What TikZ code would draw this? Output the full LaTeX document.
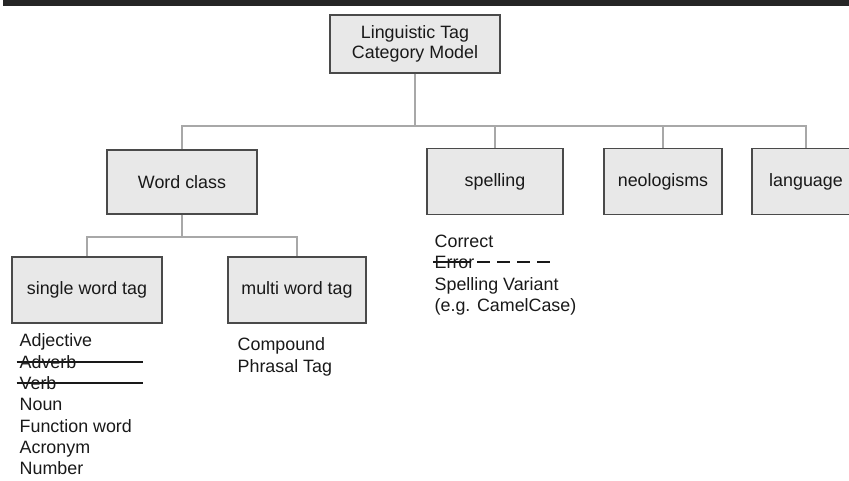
\documentclass[tikz,border=0pt]{standalone}
\usepackage{fontspec}
\setmainfont{Liberation Sans}
\usetikzlibrary{positioning, calc}
\definecolor{boxfill}{HTML}{E8E8E8}
\definecolor{boxline}{HTML}{4A4A4A}
\definecolor{linkgray}{HTML}{A8A8A8}
\newcommand{\struck}[2]{\makebox[0pt][l]{\hspace{-2.25pt}\rule[0.3em]{#2}{1.5pt}}#1}
\newcommand{\dashstruck}[1]{\makebox[0pt][l]{\hspace{-1pt}\rule[0.3em]{28pt}{1.5pt}\hbox to 60pt{\leaders\hbox to 15pt{\hspace{5pt}\rule[0.3em]{9.5pt}{1.5pt}\hfil}\hfill}}#1}

\begin{document}
\begin{tikzpicture}[
    x=0.75pt, y=-0.75pt,
    tagbox/.style={rectangle, draw=boxline, fill=boxfill, line width=0.9pt,
                   align=center, inner sep=0pt, text=black!90,
                   font=\fontsize{13.4}{15}\selectfont},
    taglist/.style={align=left, inner sep=0pt, text=black!90,
                    font=\fontsize{13.4}{16}\selectfont},
    link/.style={draw=linkgray, line width=1pt}
]
    \useasboundingbox (0,0) rectangle (849,481);
    \fill[black!85] (3,0.5) rectangle (849,6);

    % boxes
    \node[tagbox, minimum width=127.5pt, minimum height=43.5pt] (root) at (415,44) {Linguistic Tag\\Category Model};
    \node[tagbox, minimum width=112.5pt, minimum height=48pt] (wordclass) at (182,182) {Word class};
    \node[tagbox, minimum width=102pt, minimum height=49pt] (spelling) at (495,181.5) {spelling};
    \node[tagbox, minimum width=88.5pt, minimum height=49pt] (neolog) at (663,181.5) {neologisms};
    \node[tagbox, minimum width=81pt, minimum height=49pt] (language) at (806,181.5) {language};
    \node[tagbox, minimum width=112.5pt, minimum height=49.5pt] (single) at (87,290) {single word tag};
    \node[tagbox, minimum width=103.5pt, minimum height=49.5pt] (multi) at (297,290) {multi word tag};

    % lists
    \node[taglist, below right=7.5pt and 6pt of single.south west] (singlelist)
        {Adjective\\\struck{Adverb}{95pt}\\\struck{Verb}{95pt}\\Noun\\Function word\\Acronym\\Number};
    \node[taglist, below right=10.5pt and 7.5pt of multi.south west] (multilist)
        {Compound\\Phrasal Tag};
    \node[taglist, below right=15pt and 6pt of spelling.south west] (spellinglist)
        {Correct\\\dashstruck{Error}\\Spelling Variant\\(e.g. CamelCase)};

    % connectors
    \coordinate (bus) at (415,126);
    \draw[link] (root) -- (bus);
    \foreach \n in {wordclass, spelling, neolog, language}
        \draw[link] (bus) -| (\n.north);
    \coordinate (subbus) at (182,237);
    \draw[link] (wordclass) -- (subbus);
    \foreach \n in {single, multi}
        \draw[link] (subbus) -| (\n.north);
\end{tikzpicture}
\end{document}
